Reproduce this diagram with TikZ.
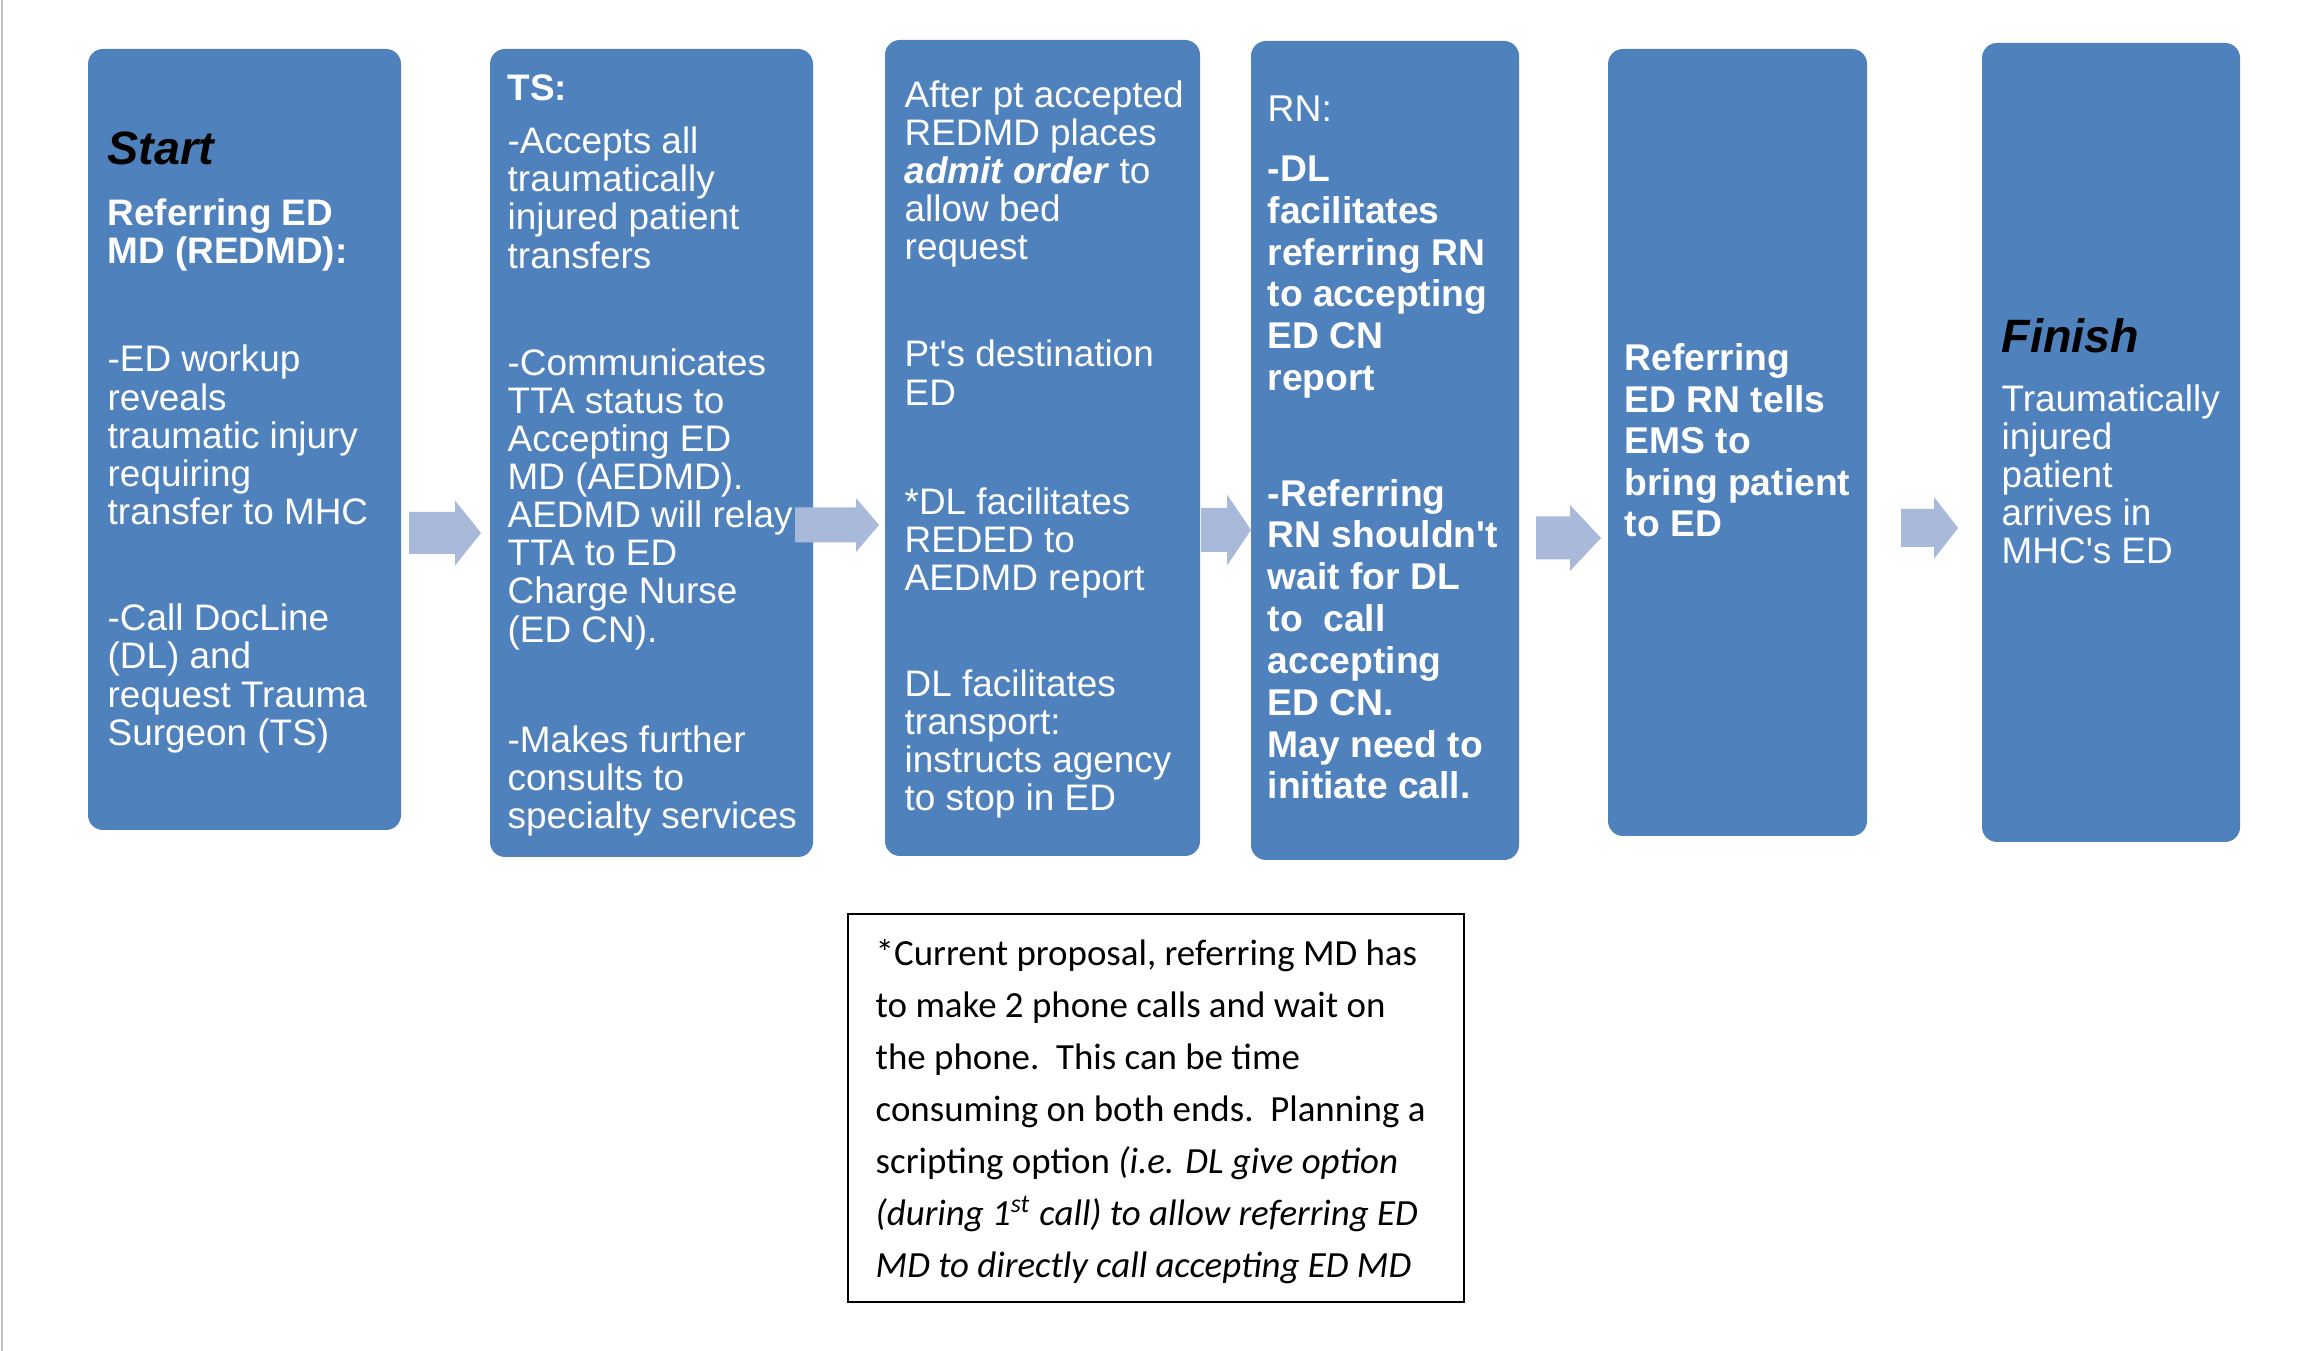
\documentclass[tikz,border=0pt]{standalone}
\usepackage{fontspec}
\setmainfont{Liberation Sans}
\newfontfamily\notefont{Carlito}
\usetikzlibrary{fit}
\definecolor{BoxBlue}{RGB}{79,129,189}
\definecolor{ArrowBlue}{RGB}{168,185,217}
\tikzset{
	stepbox/.style={fill=BoxBlue, rounded corners=1.5mm, inner sep=0pt},
	steptext/.style={text=white, anchor=north west, inner sep=0pt, align=left, font=\fontsize{10.5}{10.85}\selectfont},
	boldtext/.style={steptext, font=\fontsize{10.6}{11.9}\selectfont\bfseries},
	steptitle/.style={anchor=north west, inner sep=0pt, font=\fontsize{13.3}{14}\selectfont\bfseries\itshape},
	flow/.style={fill=ArrowBlue},
	notebox/.style={draw=black, line width=0.25mm, inner sep=0pt},
	notetext/.style={anchor=north west, inner sep=0pt, align=left, font=\notefont\fontsize{10.5}{14.8}\selectfont},
}
% block arrow: x start, y middle, x tip, shaft, head, head length
\newcommand\flowarrow[6]{%
	\fill[flow] (#1,#2-#4/2) -- (#3-#6,#2-#4/2) -- (#3-#6,#2-#5/2) -- (#3,#2)
	-- (#3-#6,#2+#5/2) -- (#3-#6,#2+#4/2) -- (#1,#2+#4/2) -- cycle;}
\newcommand\apos{\textquotesingle}

\begin{document}
\begin{tikzpicture}[x=0.1mm, y=-0.1mm]

	% canvas, pixel units
	\fill[white] (0,0) rectangle (2305,1351);
	\useasboundingbox (0,0) rectangle (2305,1351);
	\draw[black!25, line width=0.2mm] (2,0) -- (2,1351);

	% Steps
	\node[stepbox, fit={(88,49) (401,830)}] (start) {};
	\node[stepbox, fit={(490,49) (813,857)}] (ts) {};
	\node[stepbox, fit={(885,40) (1200,856)}] (admit) {};
	\node[stepbox, fit={(1251,41) (1519,860)}] (rn) {};
	\node[stepbox, fit={(1608,49) (1867,836)}] (ems) {};
	\node[stepbox, fit={(1982,43) (2240,842)}] (finish) {};

	% Arrows between steps
	\flowarrow{409}{533}{481}{42}{65}{26}
	\flowarrow{795}{525}{879}{35}{54}{23}
	\flowarrow{1201}{530}{1251}{44}{71}{24}
	\flowarrow{1536}{538}{1601}{43}{66}{31}
	\flowarrow{1901}{528}{1958}{38}{62}{24}

	% Step texts
	\node[steptitle] (starttitle) at (107,131) {Start};
	\node[steptext] (starttext) at (107,198) {%
		\textbf{Referring ED}\\
		\textbf{MD (REDMD):}\\[20pt]
		-ED workup\\
		reveals\\
		traumatic injury\\
		requiring\\
		transfer to MHC\\[19.4pt]
		-Call DocLine\\
		(DL) and\\
		request Trauma\\
		Surgeon (TS)};

	\node[steptext] (tstext) at (507,74) {%
		\textbf{TS:}\\[4.3pt]
		-Accepts all\\
		traumatically\\
		injured patient\\
		transfers\\[19.6pt]
		-Communicates\\
		TTA status to\\
		Accepting ED\\
		MD (AEDMD).\\
		AEDMD will relay\\
		TTA to ED\\
		Charge Nurse\\
		(ED CN).\\[20.6pt]
		-Makes further\\
		consults to\\
		specialty services};

	\node[steptext] (admittext) at (904,80) {%
		After pt accepted\\
		REDMD places\\
		\textbf{\textit{admit order}} to\\
		allow bed\\
		request\\[19.6pt]
		Pt\apos s destination\\
		ED\\[20.2pt]
		*DL facilitates\\
		REDED to\\
		AEDMD report\\[19.2pt]
		DL facilitates\\
		transport:\\
		instructs agency\\
		to stop in ED};

	\node[boldtext] (rntext) at (1267,95) {%
		\mdseries RN:\\[5.2pt]
		-DL\\
		facilitates\\
		referring RN\\
		to accepting\\
		ED CN\\
		report\\[21pt]
		-Referring\\
		RN shouldn\apos t\\
		wait for DL\\
		to\ \ call\\
		accepting\\
		ED CN.\\
		May need to\\
		initiate call.};

	\node[boldtext, font=\fontsize{10.6}{11.8}\selectfont\bfseries] (emstext) at (1624,343) {%
		Referring\\
		ED RN tells\\
		EMS to\\
		bring patient\\
		to ED};

	\node[steptitle] (finishtitle) at (2001,318) {Finish};
	\node[steptext] (finishtext) at (2001,384) {%
		Traumatically\\
		injured\\
		patient\\
		arrives in\\
		MHC\apos s ED};

	% Note under the steps
	\node[notebox, fit={(848,914) (1464,1302)}] (note) {};
	\node[notetext] (notetxt) at (875,939) {%
		*Current proposal, referring MD has\\
		to make 2 phone calls and wait on\\
		the phone.\ \ This can be time\\
		consuming on both ends.\ \ Planning a\\
		scripting option \textit{(i.e. DL give option}\\
		\textit{(during 1\textsuperscript{st} call) to allow referring ED}\\
		\textit{MD to directly call accepting ED MD}};

\end{tikzpicture}
\end{document}
